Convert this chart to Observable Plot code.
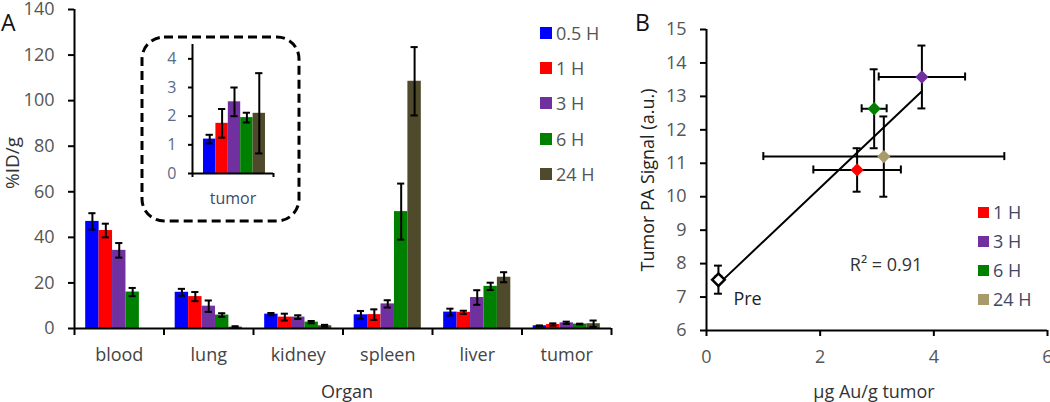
<!DOCTYPE html>
<html><head><meta charset="utf-8">
<script src="https://cdn.jsdelivr.net/npm/d3@7"></script>
<script src="https://cdn.jsdelivr.net/npm/@observablehq/plot@0.6"></script>
<style>
body{margin:0;background:#fff;font-family:"Open Sans",sans-serif;}
#wrap{position:relative;width:1050px;height:402px;overflow:hidden;background:#fff;}
#wrap svg{position:absolute;}
.lab{position:absolute;white-space:nowrap;}
</style></head><body><div id="wrap"></div>
<script>
// ---------- Panel A data ----------
const organs = ["blood","lung","kidney","spleen","liver","tumor"];
const times = ["0.5 H","1 H","3 H","6 H","24 H"];
const timeColors = ["#0000ff","#ff0000","#7030a0","#008000","#4f4a2c"];
const mean05 = [47.0, 15.9, 6.3, 6.0, 7.2, 1.2];
const mean1  = [43.0, 14.0, 5.0, 6.1, 7.1, 1.75];
const mean3  = [34.3, 9.8, 5.0, 10.8, 13.6, 2.5];
const mean6  = [16.0, 5.9, 2.8, 51.3, 18.5, 1.95];
const mean24 = [null, 0.6, 1.2, 108.5, 22.5, 2.1];
const err05 = [3.6, 1.5, 0.5, 1.7, 1.5, 0.15];
const err1  = [3.0, 2.0, 1.5, 2.3, 0.7, 0.5];
const err3  = [3.2, 2.5, 0.8, 1.6, 3.2, 0.5];
const err6  = [1.8, 0.8, 0.5, 12.3, 1.6, 0.17];
const err24 = [null, 0.4, 0.4, 15.0, 2.2, 1.4];
const yTicksA = [0, 20, 40, 60, 80, 100, 120, 140];
const yTicksInset = [0, 1, 2, 3, 4];

// ---------- Panel B data ----------
const groupsB = ["Pre","1 H","3 H","6 H","24 H"];
const groupColorsB = ["#ffffff","#ff0000","#7030a0","#008000","#a89a6a"];
const auX    = [0.21, 2.65, 3.79, 2.95, 3.12];
const auXErr = [0.05, 0.77, 0.76, 0.22, 2.12];
const paY    = [7.52, 10.8, 13.58, 12.63, 11.2];
const paYErr = [0.42, 0.65, 0.94, 1.18, 1.2];
const xTicksB = [0, 2, 4, 6];
const yTicksB = [6, 7, 8, 9, 10, 11, 12, 13, 14, 15];
const r2Label = "R\u00b2 = 0.91";

// ---------- build tables ----------
const means = [mean05, mean1, mean3, mean6, mean24];
const errs = [err05, err1, err3, err6, err24];
const rows = [];
times.forEach((t, j) => organs.forEach((o, i) => {
  if (means[j][i] != null) rows.push({organ: o, i, j, time: t, v: means[j][i], e: errs[j][i]});
}));
const PAD = 0.125, BW = 0.15, CAP = 0.04;
const x1A = d => d.i + PAD + d.j * BW;
const cxA = d => x1A(d) + BW / 2;
const intFmt = d => String(d);

const wrap = document.getElementById("wrap");
const tickColor = "#555";

const plotA = Plot.plot({
  width: 620, height: 402,
  marginLeft: 74, marginRight: 9, marginTop: 9, marginBottom: 74,
  style: {fontFamily: "Open Sans", fontSize: "18px", background: "transparent", overflow: "visible"},
  x: {domain: [0, 6]},
  y: {domain: [0, 140]},
  color: {domain: times, range: timeColors},
  marks: [
    Plot.rectY(rows, {x1: x1A, x2: d => x1A(d) + BW, y1: 0, y2: "v", fill: "time"}),
    Plot.ruleX(rows, {x: cxA, y1: d => d.v - d.e, y2: d => d.v + d.e, stroke: "#000", strokeWidth: 2}),
    Plot.ruleY(rows, {y: d => d.v + d.e, x1: d => cxA(d) - CAP, x2: d => cxA(d) + CAP, stroke: "#000", strokeWidth: 2}),
    Plot.ruleY(rows, {y: d => Math.max(0, d.v - d.e), x1: d => cxA(d) - CAP, x2: d => cxA(d) + CAP, stroke: "#000", strokeWidth: 2}),
    Plot.ruleX([0], {stroke: "#000", strokeWidth: 2}),
    Plot.ruleY([0], {stroke: "#000", strokeWidth: 2}),
    Plot.axisY({ticks: yTicksA, tickSize: 6, tickPadding: 14, tickFormat: intFmt, label: null, stroke: "#000", strokeWidth: 2, fill: tickColor}),
    Plot.axisX({ticks: d3.range(0, organs.length + 1), tickSize: 7, tickFormat: () => "", label: null, stroke: "#000", strokeWidth: 2}),
    Plot.axisX({ticks: organs.map((o, i) => i + 0.5), tickSize: 0, tickPadding: 20, tickFormat: d => organs[Math.floor(d)], label: null, fill: "#444"}),
    Plot.text(["%ID/g"], {frameAnchor: "left", textAnchor: "middle", lineAnchor: "middle", rotate: -90, dx: -62, dy: -6, fill: "#333", fontSize: 19}),
    Plot.text(["Organ"], {frameAnchor: "bottom", textAnchor: "middle", lineAnchor: "middle", dy: 64, dx: 4, fill: "#333"})
  ]
});
plotA.style.left = "0px"; plotA.style.top = "0px";
wrap.appendChild(plotA);

// inset (tumor)
const tumorRows = rows.filter(d => d.organ === "tumor");
const IPAD = 0.136, IBW = 0.153, ICAP = 0.045;
const x1I = d => IPAD + d.j * IBW;
const cxI = d => x1I(d) + IBW / 2;
const inset = Plot.plot({
  width: 180, height: 200,
  marginLeft: 62, marginRight: 37, marginTop: 14, marginBottom: 57,
  style: {fontFamily: "Open Sans", fontSize: "16px", background: "transparent", overflow: "visible"},
  x: {domain: [0, 1]},
  y: {domain: [0, 4.5]},
  color: {domain: times, range: timeColors},
  marks: [
    Plot.frame({insetLeft: -50.5, insetRight: -25.5, insetTop: -7.5, insetBottom: -47.5, rx: 22, stroke: "#000", strokeWidth: 3, strokeDasharray: "9,5"}),
    Plot.rectY(tumorRows, {x1: x1I, x2: d => x1I(d) + IBW, y1: 0, y2: "v", fill: "time"}),
    Plot.ruleX(tumorRows, {x: cxI, y1: d => d.v - d.e, y2: d => d.v + d.e, stroke: "#000", strokeWidth: 2}),
    Plot.ruleY(tumorRows, {y: d => d.v + d.e, x1: d => cxI(d) - ICAP, x2: d => cxI(d) + ICAP, stroke: "#000", strokeWidth: 2}),
    Plot.ruleY(tumorRows, {y: d => d.v - d.e, x1: d => cxI(d) - ICAP, x2: d => cxI(d) + ICAP, stroke: "#000", strokeWidth: 2}),
    Plot.ruleX([0], {stroke: "#000", strokeWidth: 2}),
    Plot.ruleY([0], {stroke: "#000", strokeWidth: 2}),
    Plot.axisY({ticks: yTicksInset, tickSize: 4, tickPadding: 12, tickFormat: intFmt, label: null, stroke: "#000", strokeWidth: 2, fill: "#5a6a8a"}),
    Plot.axisX({ticks: [0, 1], tickSize: 4, tickFormat: () => "", label: null, stroke: "#000", strokeWidth: 2}),
    Plot.text(["tumor"], {frameAnchor: "bottom", textAnchor: "middle", lineAnchor: "middle", dy: 25, fill: "#3b4a6b", fontSize: 16})
  ]
});
inset.style.left = "130px"; inset.style.top = "30px";
wrap.appendChild(inset);

// ---------- Panel B ----------
const ptsB = groupsB.map((g, k) => ({g, x: auX[k], y: paY[k], ex: auXErr[k], ey: paYErr[k]}));
const CAPX = 0.07, CAPY = 0.12;
const eb = {stroke: "#000", strokeWidth: 2};
const plotB = Plot.plot({
  width: 430, height: 402,
  marginLeft: 86, marginRight: 3, marginTop: 29, marginBottom: 72,
  style: {fontFamily: "Open Sans", fontSize: "18px", background: "transparent", overflow: "visible"},
  x: {domain: [0, 6]},
  y: {domain: [6, 15]},
  color: {domain: groupsB, range: groupColorsB},
  marks: [
    Plot.linearRegressionY(ptsB, {x: "x", y: "y", ci: 0, stroke: "#000", strokeWidth: 2}),
    Plot.ruleY(ptsB, {y: "y", x1: d => d.x - d.ex, x2: d => d.x + d.ex, ...eb}),
    Plot.ruleX(ptsB, {x: d => d.x - d.ex, y1: d => d.y - CAPY, y2: d => d.y + CAPY, ...eb}),
    Plot.ruleX(ptsB, {x: d => d.x + d.ex, y1: d => d.y - CAPY, y2: d => d.y + CAPY, ...eb}),
    Plot.ruleX(ptsB, {x: "x", y1: d => d.y - d.ey, y2: d => d.y + d.ey, ...eb}),
    Plot.ruleY(ptsB, {y: d => d.y + d.ey, x1: d => d.x - CAPX, x2: d => d.x + CAPX, ...eb}),
    Plot.ruleY(ptsB, {y: d => d.y - d.ey, x1: d => d.x - CAPX, x2: d => d.x + CAPX, ...eb}),
    Plot.dot(ptsB.filter(d => d.g === "Pre"), {x: "x", y: "y", symbol: "square", rotate: 45, r: 5, fill: "#fff", stroke: "#000", strokeWidth: 2.5}),
    Plot.dot(ptsB.filter(d => d.g !== "Pre"), {x: "x", y: "y", symbol: "square", rotate: 45, r: 5.3, fill: "g"}),
    Plot.text(ptsB.filter(d => d.g === "Pre"), {x: "x", y: "y", text: "g", textAnchor: "start", dx: 15, dy: 20, fill: "#222", fontSize: 18}),
    Plot.text([r2Label], {x: [3.16], y: [7.94], fill: "#333", fontSize: 18}),
    Plot.ruleX([0], {stroke: "#000", strokeWidth: 2}),
    Plot.ruleY([6], {stroke: "#000", strokeWidth: 2}),
    Plot.axisY({ticks: yTicksB, tickSize: 6, tickPadding: 14, tickFormat: intFmt, label: null, stroke: "#000", strokeWidth: 2, fill: tickColor}),
    Plot.axisX({ticks: xTicksB, tickSize: 6, tickPadding: 14, tickFormat: intFmt, label: null, stroke: "#000", strokeWidth: 2, fill: tickColor}),
    Plot.text(["Tumor PA Signal (a.u.)"], {frameAnchor: "left", textAnchor: "middle", lineAnchor: "middle", rotate: -90, dx: -58, dy: 0, fill: "#222", fontSize: 18}),
    Plot.text(["\u00b5g Au/g tumor"], {frameAnchor: "bottom", textAnchor: "middle", lineAnchor: "middle", dy: 62, dx: -3, fill: "#333", fontSize: 18})
  ]
});
plotB.style.left = "620px"; plotB.style.top = "0px";
wrap.appendChild(plotB);

// ---------- panel letters and legends ----------
function addLabel(txt, left, top, css) {
  const d = document.createElement("div");
  d.className = "lab"; d.textContent = txt;
  d.style.left = left + "px"; d.style.top = top + "px";
  Object.assign(d.style, css || {});
  wrap.appendChild(d);
  return d;
}
addLabel("A", 1, 6, {fontSize: "23px", color: "#111"});
addLabel("B", 635, 6, {fontSize: "23px", color: "#111"});

function legend(items, colors, left, top0, step, sq, fontSize, color) {
  items.forEach((t, k) => {
    const row = document.createElement("div");
    row.className = "lab";
    row.style.left = left + "px";
    row.style.top = (top0 + k * step - 12) + "px";
    row.style.height = "24px";
    row.style.display = "flex";
    row.style.alignItems = "center";
    row.style.fontSize = fontSize + "px";
    row.style.color = color;
    const s = document.createElement("span");
    s.style.display = "inline-block";
    s.style.width = sq + "px"; s.style.height = sq + "px";
    s.style.background = colors[k];
    s.style.marginRight = "4px";
    row.appendChild(s);
    row.appendChild(document.createTextNode(t));
    wrap.appendChild(row);
  });
}
legend(times, timeColors, 540, 33, 35.2, 12, 18, "#555");
legend(groupsB.slice(1), groupColorsB.slice(1), 978, 212, 29, 11, 18, "#3d4866");
</script></body></html>
